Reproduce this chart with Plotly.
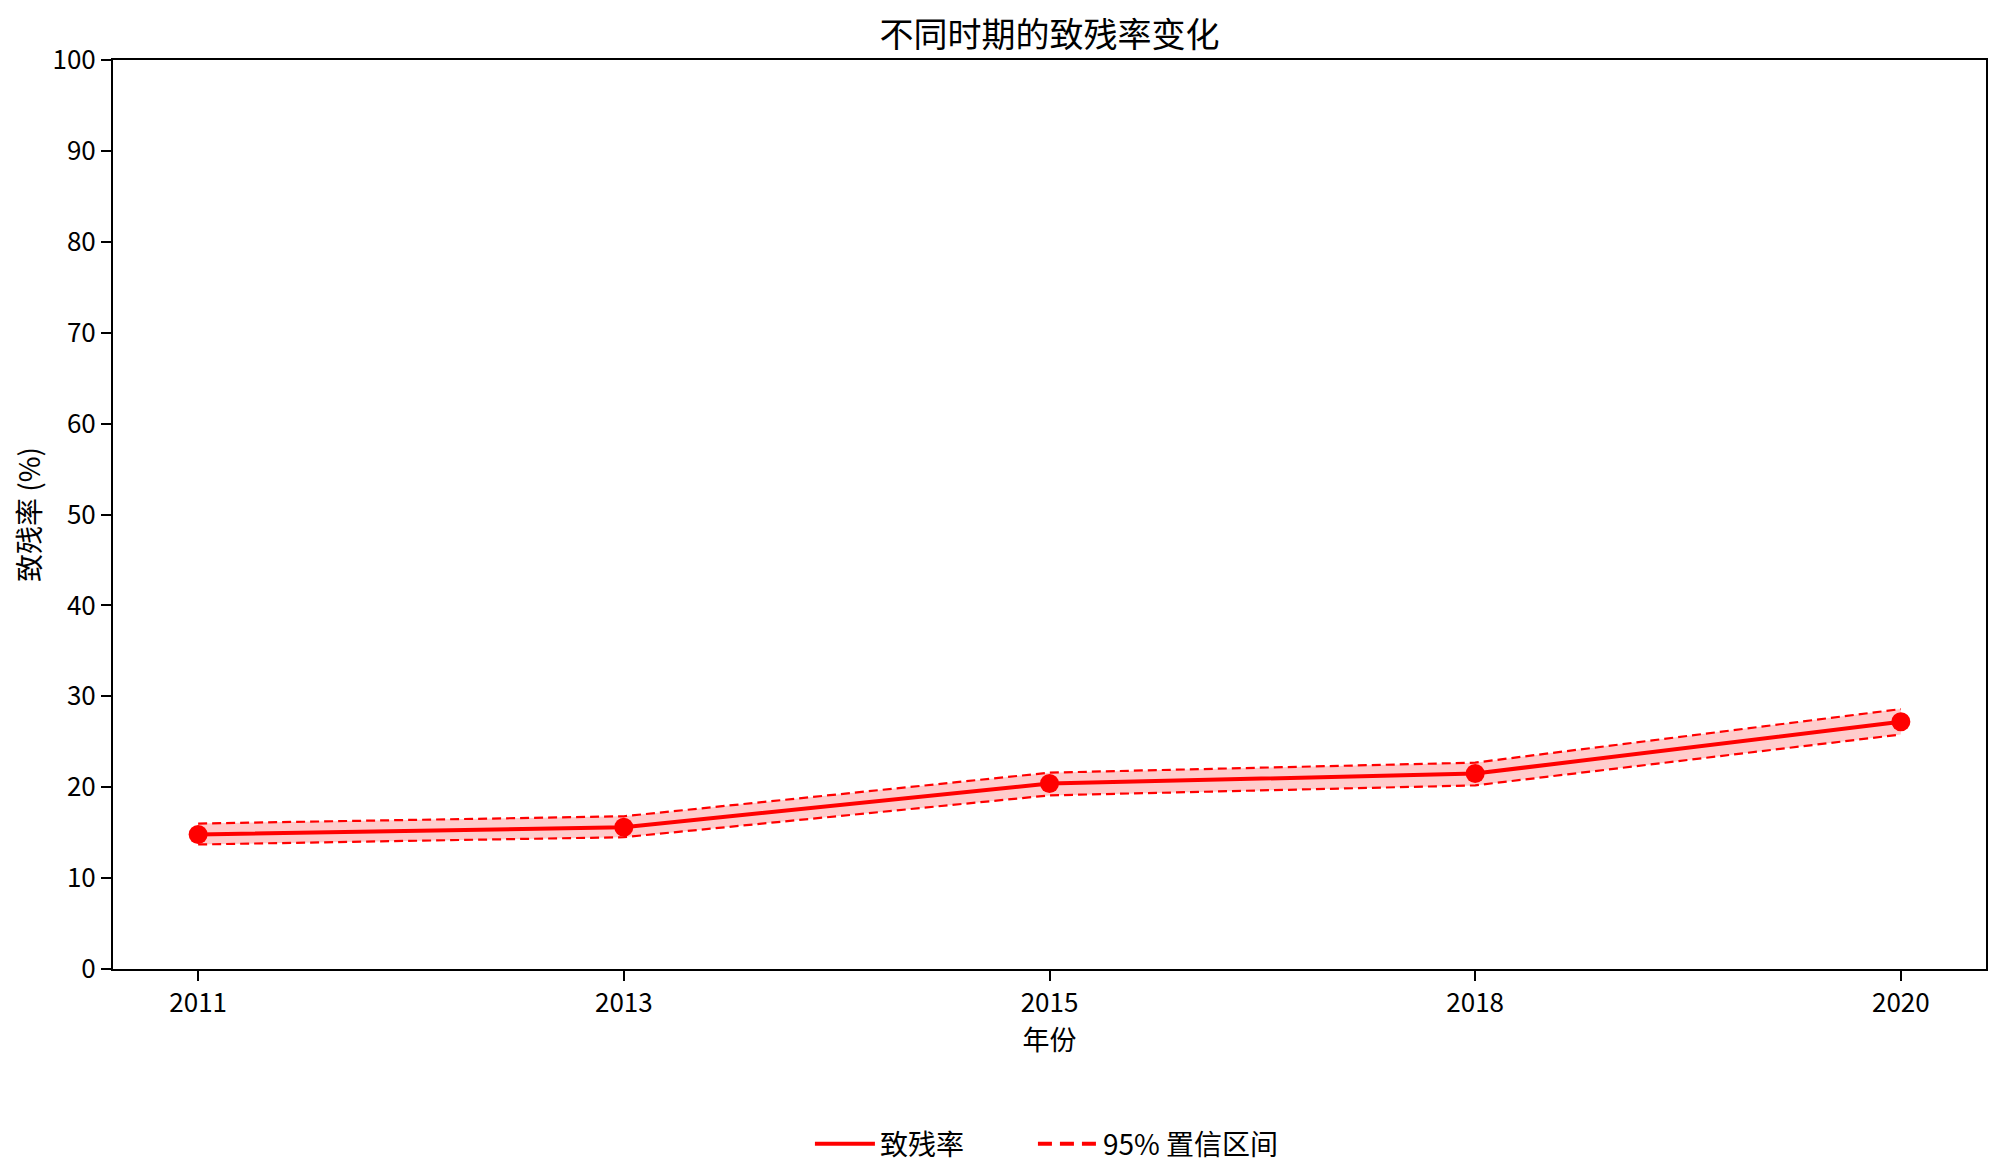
import plotly.graph_objects as go

years = ["2011", "2013", "2015", "2018", "2020"]
rate = [14.8, 15.6, 20.4, 21.5, 27.2]
ci_lower = [13.7, 14.5, 19.1, 20.2, 25.8]
ci_upper = [16.0, 16.8, 21.6, 22.7, 28.6]

RED = "#ff0000"
FONT = "Noto Sans CJK SC, SimHei, sans-serif"

fig = go.Figure()
# legend-only entries (matplotlib-style handles)
fig.add_trace(go.Scatter(x=[None], y=[None], mode="lines", line=dict(width=4, color=RED),
                         name="致残率", showlegend=True, legend="legend"))
fig.add_trace(go.Scatter(x=[None], y=[None], mode="lines", line=dict(width=4, color=RED, dash="14px,8px"),
                         name="95% 置信区间", showlegend=True, legend="legend2"))
# shaded CI band
fig.add_trace(go.Scatter(x=years, y=ci_upper, mode="lines", line=dict(width=0, color=RED),
                         showlegend=False, hoverinfo="skip"))
fig.add_trace(go.Scatter(x=years, y=ci_lower, mode="lines", line=dict(width=0, color=RED),
                         fill="tonexty", fillcolor="rgba(255,0,0,0.2)", showlegend=False, hoverinfo="skip"))
# dashed CI bounds
fig.add_trace(go.Scatter(x=years, y=ci_upper, mode="lines", line=dict(width=2.2, color=RED, dash="9px,5px"),
                         showlegend=False))
fig.add_trace(go.Scatter(x=years, y=ci_lower, mode="lines", line=dict(width=2.2, color=RED, dash="9px,5px"),
                         showlegend=False))
# main line
fig.add_trace(go.Scatter(x=years, y=rate, mode="lines+markers", line=dict(width=4, color=RED),
                         marker=dict(size=19, color=RED), showlegend=False))

axis_common = dict(showline=True, linecolor="black", linewidth=2, mirror=True,
                   ticks="outside", ticklen=10, tickwidth=2, tickcolor="black",
                   showgrid=False, zeroline=False,
                   tickfont=dict(family=FONT, size=26, color="black"))

legend_common = dict(orientation="h", xref="container", yref="container", xanchor="left",
                     y=0.019, yanchor="middle", itemwidth=60,
                     font=dict(family=FONT, size=28, color="black"), bgcolor="rgba(0,0,0,0)")

fig.update_layout(
    width=1984, height=1158,
    paper_bgcolor="white", plot_bgcolor="white",
    margin=dict(l=105, r=4, t=52, b=197),
    title=dict(text="不同时期的致残率变化", xref="paper", x=0.5, xanchor="center",
               yref="container", y=0.9765, yanchor="middle",
               font=dict(family=FONT, size=34, color="black")),
    font=dict(family=FONT, color="black"),
    xaxis=dict(type="category", range=[-0.2, 4.2],
               title=dict(text="年份", font=dict(family=FONT, size=27, color="black"), standoff=7),
               **axis_common),
    yaxis=dict(range=[0, 100], tickmode="array", tickvals=list(range(0, 101, 10)),
               title=dict(text="致残率 (%)", font=dict(family=FONT, size=28, color="black"), standoff=16),
               **axis_common),
    legend=dict(x=0.4042, **legend_common),
    legend2=dict(x=0.5166, **legend_common),
    showlegend=True,
)

fig.write_html("out.html")
